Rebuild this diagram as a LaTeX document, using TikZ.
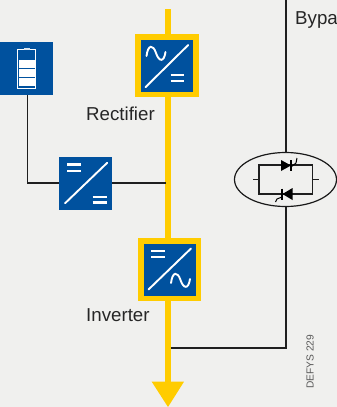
\documentclass[tikz,border=0pt]{standalone}
\usetikzlibrary{shapes.geometric}
\usepackage{fontspec}
\setmainfont{Liberation Sans}
\definecolor{bgc}{HTML}{F0F0EE}
\definecolor{blu}{HTML}{00519E}
\definecolor{yel}{HTML}{FFCC00}
\tikzset{
  px/.style={x=1pt,y=-1pt},
  wire/.style={draw=black!88,line width=1.1pt},
  bus/.style={draw=yel,line width=5.7pt},
  conv/.style={fill=blu,minimum size=53pt,inner sep=0pt,outer sep=0pt},
  yconv/.style={fill=blu,draw=yel,line width=5.6pt,minimum size=57.6pt,inner sep=0pt,outer sep=0pt},
  sym/.style={draw=white,line width=1.9pt,line cap=round},
  eq/.style={draw=white,line width=2.2pt},
  lab/.style={font=\fontsize{18.7}{20}\selectfont,text=black!85,inner sep=0pt,anchor=base west},
}
\begin{document}
\begin{tikzpicture}[px]
\useasboundingbox (0,0) rectangle (337,407);
\fill[bgc] (0,0) rectangle (337,407);
% coordinates
\coordinate (bustop) at (168,9);
\coordinate (busend) at (168,385);
\coordinate (dcjoin) at (165.5,183);
\coordinate (batcorner) at (27.5,183);
\coordinate (bypasstop) at (286,0);
\coordinate (bypasscorner) at (286,348);
\coordinate (busjoin) at (171,348);
% bus
\draw[bus] (bustop) -- (busend);
\fill[yel] (151.7,381.7) -- (184,381.7) -- (168,407) -- cycle;
% bypass
\node[draw=black!90,line width=1.2pt,ellipse,minimum width=102pt,minimum height=54pt,inner sep=0pt,outer sep=0pt,fill=bgc] (sw) at (285.5,179.5) {};
\draw[wire] (bypasstop) -- (sw.north -| bypasstop);
\draw[wire] (sw.south -| bypasstop) -- (bypasscorner) -- (busjoin);
% battery and dc/dc
\node[conv,anchor=north west] (bat) at (0,42) {};
\node[conv,anchor=north west] (dc) at (59,157) {};
\draw[wire] (bat.south -| batcorner) -- (batcorner) -- (dc.west |- batcorner);
\draw[wire] (dc.east |- dcjoin) -- (dcjoin);
% yellow converters
\node[yconv] (rect) at (167,65.5) {};
\node[yconv] (inv) at (169.5,269.7) {};
% battery symbol
\draw[white,line width=0.9pt] (17.8,49.6) rectangle (35.7,88.4);
\fill[white!85!blu] (24,47.6) rectangle (29.5,49.6);
\fill[white] (19,60) rectangle (34.5,68.2);
\fill[white] (19,69.4) rectangle (34.5,76.6);
\fill[white] (19,77.8) rectangle (34.5,85.8);
% rectifier symbol
\draw[sym] (145.5,87.2) -- (188.2,45);
\draw[sym] (146.5,56) .. controls (148,44.5) and (153,44) .. (156,53) .. controls (159,62) and (164,62.5) .. (165.5,52);
\draw[eq] (170.7,75.3) -- (184.3,75.3) (170.7,81.3) -- (184.3,81.3);
% dc-dc symbol
\draw[sym] (65,203.3) -- (107.3,162.7);
\draw[eq] (67.3,164.5) -- (81.3,164.5) (67.3,171) -- (81.3,171);
\draw[eq] (92.7,196.7) -- (106.5,196.7) (92.7,202.5) -- (106.5,202.5);
% inverter symbol
\draw[sym] (148.5,289.5) -- (191,248.5);
\draw[eq] (151.3,250.7) -- (165,250.7) (151.3,257.3) -- (165,257.3);
\draw[sym] (171,283) .. controls (172.5,271.5) and (177.5,271) .. (180.5,280) .. controls (183.5,289) and (188.5,289.5) .. (190,279);
% thyristors
\draw[wire] (259,165) rectangle (312.7,194);
\draw[wire] (253,179.5) -- (259,179.5) (312.7,179.5) -- (319,179.5);
\fill[black] (281,160) -- (291,165.5) -- (281,171) -- cycle;
\draw[black,line width=1.2pt] (291,160) -- (291,171);
\draw[black,line width=1pt] (291,167) -- (296,163) -- (297,158);
\fill[black] (292.5,188) -- (282.5,194) -- (292.5,200) -- cycle;
\draw[black,line width=1.2pt] (282,188.5) -- (282,199.5);
\draw[black,line width=1pt] (282,197) -- (277,199) -- (275.5,202);
% labels
\node[lab] (rl) at (86,120) {Rectifier};
\node[lab] (il) at (86,321) {Inverter};
\node[lab] (bl) at (295,24) {Bypa};
\node[font=\fontsize{10.2}{12}\selectfont,text=black!65,rotate=90,inner sep=0pt,anchor=base west] (ref) at (313.5,389) {DEFYS 229};
\end{tikzpicture}
\end{document}
